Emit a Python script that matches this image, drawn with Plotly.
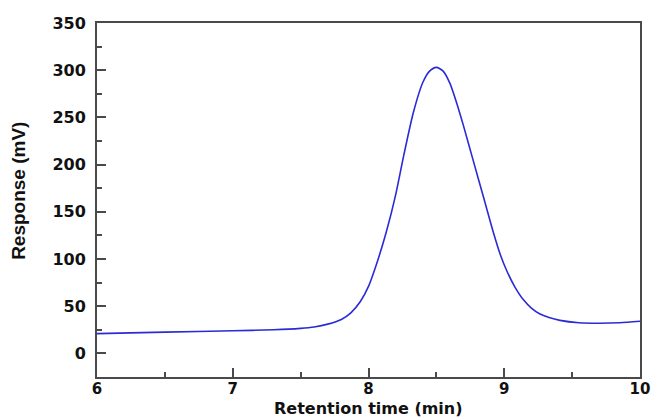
import plotly.graph_objects as go

retention_time = [6.0, 6.5, 7.0, 7.3, 7.5, 7.6, 7.7, 7.8, 7.87, 7.94, 8.0, 8.06, 8.13, 8.2,
                  8.26, 8.33, 8.40, 8.45, 8.50, 8.55, 8.60, 8.65, 8.70, 8.77, 8.85, 8.92,
                  8.97, 9.02, 9.08, 9.14, 9.2, 9.26, 9.33, 9.41, 9.55, 9.7, 9.85, 10.0]
response = [21, 22.5, 24, 25, 26.5, 28, 31, 36, 43, 55, 71, 95, 128, 168,
            210, 255, 287, 299, 303, 299, 286, 265, 241, 205, 164, 128,
            105, 87, 70, 57, 48, 42, 38, 35, 32.5, 32, 32.5, 34]

x_ticks = [6, 7, 8, 9, 10]
y_ticks = [0, 50, 100, 150, 200, 250, 300, 350]
x_title = "Retention time (min)"
y_title = "Response (mV)"

fig = go.Figure()
fig.add_trace(go.Scatter(x=retention_time, y=response, mode="lines",
                         line=dict(color="#2b2bd6", width=1.6, shape="spline", smoothing=0.7),
                         showlegend=False))

axis_common = dict(showline=True, mirror=True, linecolor="#4a4a4a", linewidth=2,
                   ticks="inside", ticklen=9, tickwidth=1.5, tickcolor="#4a4a4a",
                   showgrid=False, zeroline=False, automargin=False)

fig.update_layout(
    width=653, height=419,
    margin=dict(l=97, r=13, t=23, b=42),
    paper_bgcolor="white", plot_bgcolor="white",
    xaxis=dict(range=[6, 10], tickvals=x_ticks, ticktext=[str(v) for v in x_ticks],
               ticklabelstandoff=-3,
               tickfont=dict(family="DejaVu Sans", size=15, color="#111", weight="bold"),
               minor=dict(ticks="inside", ticklen=5, tickwidth=1.5, tickcolor="#4a4a4a", dtick=0.5),
               **axis_common),
    yaxis=dict(range=[-25, 350], tickvals=y_ticks, ticktext=[str(v) for v in y_ticks],
               ticklabelstandoff=6,
               tickfont=dict(family="DejaVu Sans", size=16, color="#111", weight="bold"),
               minor=dict(ticks="inside", ticklen=5, tickwidth=1.5, tickcolor="#4a4a4a", dtick=25, tick0=0),
               **axis_common),
    annotations=[
        dict(text=x_title, xref="paper", yref="paper", x=0.5, y=-0.1186,
             xanchor="center", yanchor="bottom", showarrow=False, borderpad=0,
             font=dict(family="DejaVu Sans", size=16, color="#111", weight="bold")),
        dict(text=y_title, xref="paper", yref="paper", x=-0.146, y=0.525,
             xanchor="center", yanchor="middle", showarrow=False, textangle=-90,
             font=dict(family="Liberation Sans", size=19, color="#111", weight="bold")),
    ],
)

fig.write_html("out.html")
